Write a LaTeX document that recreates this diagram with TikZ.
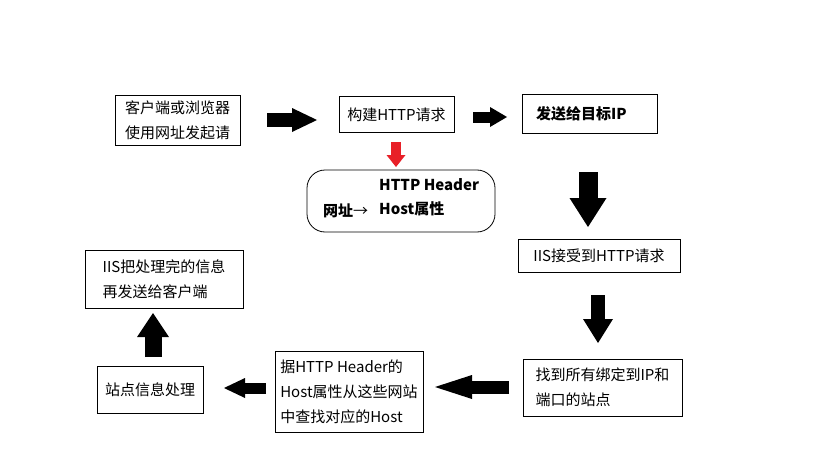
\documentclass[tikz,border=0pt]{standalone}
\usepackage{fontspec}
\newfontfamily\cjk{Noto Sans CJK SC}
\usetikzlibrary{arrows.meta}
\definecolor{redarrow}{RGB}{232,32,40}
\tikzset{
  box/.style={draw=black, line width=0.8pt, inner sep=0pt, align=left,
    font=\cjk\fontsize{15}{25}\selectfont},
  txt/.style={inner sep=0pt, anchor=west, font=\cjk\fontsize{15}{25}\selectfont},
  btxt/.style={txt, font=\cjk\bfseries\fontsize{15}{25}\selectfont},
  blk/.style n args={3}{line width=#1pt, line cap=butt,
    -{Triangle[length=#3pt 0 0, width=#2pt 0 0, line width=0pt]}},
}
\begin{document}
\begin{tikzpicture}[x=1pt,y=-1pt]
\useasboundingbox[fill=white] (0,0) rectangle (819,460);
% boxes
\node[box, minimum width=125pt, minimum height=50pt] (b1) at (177.5,120) {客户端或浏览器\\使用网址发起请};
\node[box, minimum width=115pt, minimum height=36pt] (b2) at (396.5,114.5) {构建HTTP请求};
\node[box, minimum width=135pt, minimum height=39pt] (b3) at (589.5,113.5) {};
\node[btxt] (b3t) at (536,114) {发送给目标IP};
\node[box, minimum width=162pt, minimum height=33pt] (b4) at (599,255.5) {IIS接受到HTTP请求};
\node[box, minimum width=159pt, minimum height=57pt] (b5) at (602.5,387.5) {找到所有绑定到IP和\\端口的站点};
\node[box, minimum width=148pt, minimum height=81pt] (b6) at (349,391.5) {据HTTP Header的\\Host属性从这些网站\\中查找对应的Host};
\node[box, minimum width=106pt, minimum height=47pt] (b7) at (150,389.5) {站点信息处理};
\node[box, minimum width=158pt, minimum height=58pt] (b8) at (164,279) {IIS把处理完的信息\\再发送给客户端\hspace*{15pt}};
% rounded header box
\node[draw=black, line width=0.8pt, rounded corners=18pt, minimum width=188pt, minimum height=62pt] (hb) at (401,201) {};
\node[btxt] (hb1) at (379,185) {HTTP Header};
\node[btxt] (hb2) at (379,209) {Host属性};
\node[txt, font=\cjk\bfseries\fontsize{15}{25}\selectfont] (hb3) at (323,211) {网址\mdseries→};
% arrow coordinates
\coordinate (a1s) at (267,120); \coordinate (a1e) at (317,120);
\coordinate (a2s) at (473,117); \coordinate (a2e) at (507,117);
\coordinate (ars) at (396,142); \coordinate (are) at (396,167);
\coordinate (a3s) at (588,172); \coordinate (a3e) at (588,227);
\coordinate (a4s) at (598,295); \coordinate (a4e) at (598,343);
\coordinate (a5s) at (509,387); \coordinate (a5e) at (435,387);
\coordinate (a6s) at (266,388); \coordinate (a6e) at (224,388);
\coordinate (a7s) at (153,357); \coordinate (a7e) at (153,313);
\draw[blk={14}{24}{25}] (a1s) -- (a1e);
\draw[blk={11}{20}{17}] (a2s) -- (a2e);
\draw[redarrow, blk={10}{19}{12}] (ars) -- (are);
\draw[blk={19}{37}{29}] (a3s) -- (a3e);
\draw[blk={14}{30}{24}] (a4s) -- (a4e);
\draw[blk={13}{24}{37}] (a5s) -- (a5e);
\draw[blk={11}{20}{21}] (a6s) -- (a6e);
\draw[blk={17}{32}{24}] (a7s) -- (a7e);
\end{tikzpicture}
\end{document}
